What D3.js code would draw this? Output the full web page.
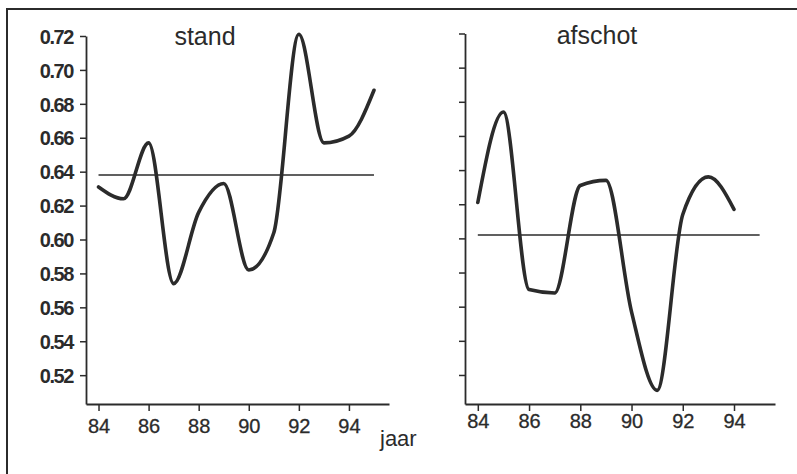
<!DOCTYPE html>
<html>
<head>
<meta charset="utf-8">
<script src="https://cdn.jsdelivr.net/npm/d3@7"></script>
<style>
  html, body { margin: 0; padding: 0; background: #fff; }
  svg { display: block; font-family: "Liberation Sans", Arial, Helvetica, sans-serif; }
</style>
</head>
<body>
<svg id="chart" width="797" height="474"></svg>
<script>
// jaartallen (19xx)
const years = [84, 85, 86, 87, 88, 89, 90, 91, 92, 93, 94, 95];
const yearsAfschot = [84, 85, 86, 87, 88, 89, 90, 91, 92, 93, 94];

// reeksen
const stand = [0.631, 0.624, 0.657, 0.574, 0.616, 0.633, 0.582, 0.604, 0.721, 0.657, 0.661, 0.688];
const afschot = [0.621, 0.674, 0.570, 0.568, 0.631, 0.634, 0.557, 0.511, 0.614, 0.636, 0.617];

// gemiddelden (horizontale lijn)
const meanStand = 0.638;
const meanAfschot = 0.602;
const meanSpan = [84, 95];

const panelTitles = ['stand', 'afschot'];
const xTicks = [84, 86, 88, 90, 92, 94];
const yTicks = [0.52, 0.54, 0.56, 0.58, 0.60, 0.62, 0.64, 0.66, 0.68, 0.70, 0.72];

const ink = '#2b2b2b';
const svg = d3.select('#chart');

// frame (only left and top edges visible in the scan)
svg.append('path')
    .attr('d', 'M7,474V9H797')
    .attr('fill', 'none')
    .attr('stroke', ink)
    .attr('stroke-width', 2);

const panels = [
    { title: panelTitles[0], xs: years, ys: stand, mean: meanStand,
      xRange: [86, 389], yRange: [404, 36], labels: true, xPad: 8, titleX: 205, titleY: 45 },
    { title: panelTitles[1], xs: yearsAfschot, ys: afschot, mean: meanAfschot,
      xRange: [465, 775], yRange: [404, 33.5], labels: false, xPad: 3, titleX: 597, titleY: 44 }
];

panels.forEach(p => {
    const x = d3.scaleLinear().domain([83.5, 95.6]).range(p.xRange);
    const y = d3.scaleLinear().domain([0.503, 0.72]).range(p.yRange);
    const g = svg.append('g');

    // x axis
    const xAxis = g.append('g')
        .attr('transform', `translate(0,${p.yRange[0]})`)
        .call(d3.axisBottom(x).tickValues(xTicks).tickSize(7).tickSizeOuter(0).tickPadding(p.xPad)
            .tickFormat(d3.format('d')));

    // y axis
    const yAxis = g.append('g')
        .attr('transform', `translate(${p.xRange[0]},0)`)
        .call(d3.axisLeft(y).tickValues(yTicks).tickSize(6).tickSizeOuter(0).tickPadding(7)
            .tickFormat(p.labels ? d3.format('.2f') : ''));

    [xAxis, yAxis].forEach(a => {
        a.select('.domain').attr('stroke', ink).attr('stroke-width', 1.8);
        a.selectAll('.tick line').attr('stroke', ink).attr('stroke-width', 1.5);
        a.selectAll('.tick text').attr('fill', ink);
    });
    xAxis.selectAll('.tick text').attr('font-size', 20)
        .attr('stroke', ink).attr('stroke-width', 0.3);
    yAxis.selectAll('.tick text').attr('font-size', 20).attr('font-weight', 'bold')
        .attr('letter-spacing', -1.4).attr('dy', '0.36em');

    // mean line
    g.append('line')
        .attr('x1', x(meanSpan[0])).attr('x2', x(meanSpan[1]))
        .attr('y1', y(p.mean)).attr('y2', y(p.mean))
        .attr('stroke', ink).attr('stroke-width', 1.6);

    // series
    const line = d3.line()
        .x((d, i) => x(p.xs[i]))
        .y(d => y(d))
        .curve(d3.curveMonotoneX);

    g.append('path')
        .datum(p.ys)
        .attr('d', line)
        .attr('fill', 'none')
        .attr('stroke', ink)
        .attr('stroke-width', 3.6)
        .attr('stroke-linejoin', 'round')
        .attr('stroke-linecap', 'round');

    // title
    g.append('text')
        .attr('x', p.titleX).attr('y', p.titleY)
        .attr('text-anchor', 'middle')
        .attr('font-size', 25)
        .attr('fill', ink)
        .text(p.title);
});

// x-axis label
svg.append('text')
    .attr('x', 380).attr('y', 446)
    .attr('font-size', 22)
    .attr('fill', ink)
    .text('jaar');
</script>
</body>
</html>
